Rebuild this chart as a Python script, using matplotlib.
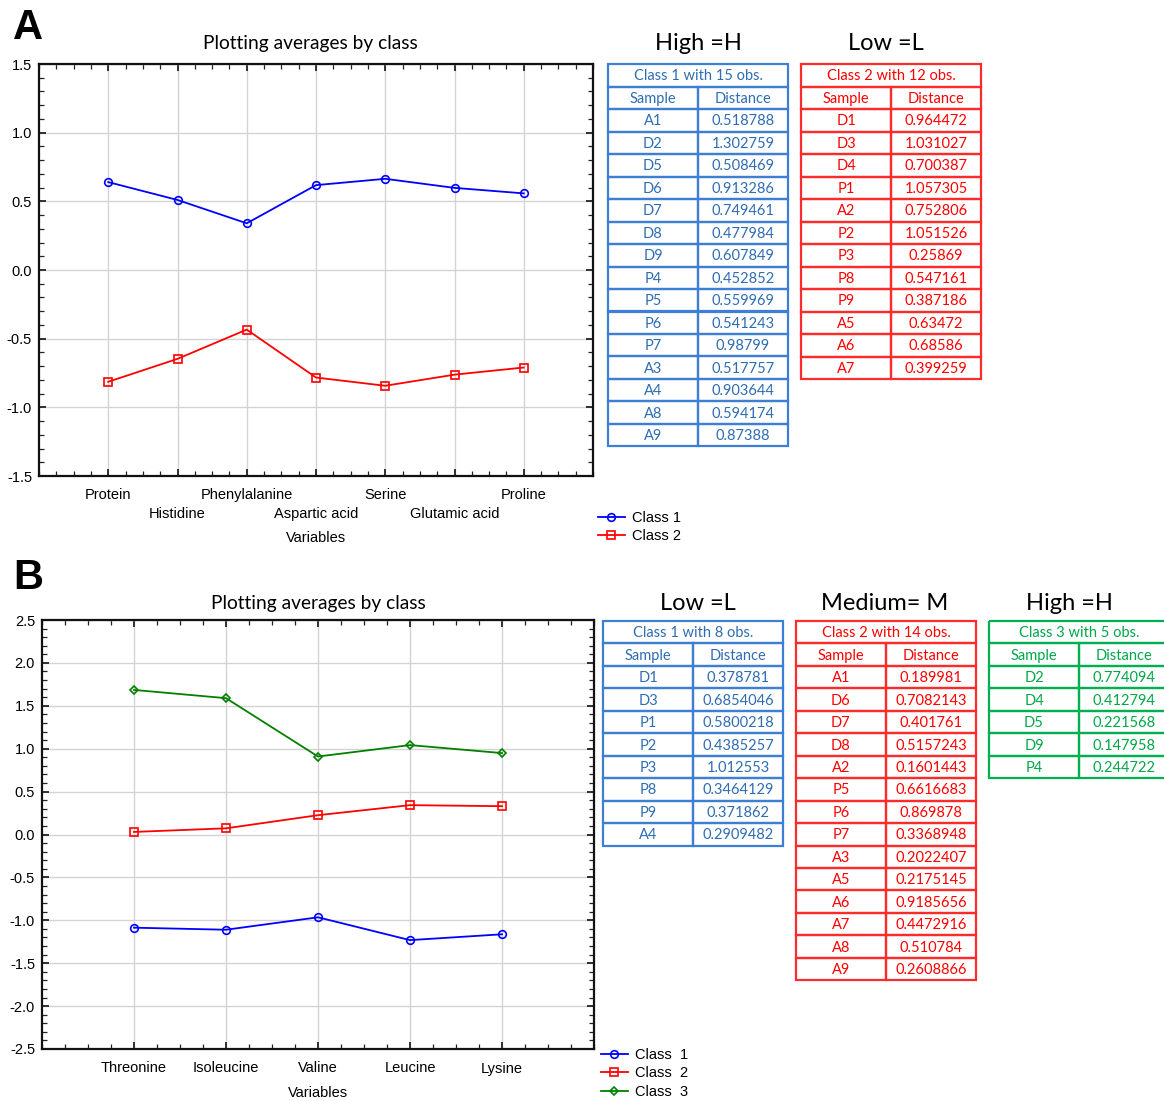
import matplotlib
matplotlib.use("Agg")
import matplotlib.pyplot as plt
from matplotlib.patches import Rectangle
from matplotlib.ticker import MultipleLocator, NullLocator

# ---------------- data ----------------
vars_a = ["Protein", "Histidine", "Phenylalanine", "Aspartic acid", "Serine", "Glutamic acid", "Proline"]
class1_a = [0.640, 0.510, 0.340, 0.618, 0.664, 0.598, 0.558]
class2_a = [-0.814, -0.647, -0.434, -0.783, -0.843, -0.762, -0.710]

vars_b = ["Threonine", "Isoleucine", "Valine", "Leucine", "Lysine"]
class1_b = [-1.086, -1.110, -0.965, -1.231, -1.163]
class2_b = [0.030, 0.072, 0.225, 0.342, 0.330]
class3_b = [1.685, 1.589, 0.909, 1.042, 0.949]

yticks_a = [-1.5, -1.0, -0.5, 0.0, 0.5, 1.0, 1.5]
yticks_b = [-2.5, -2.0, -1.5, -1.0, -0.5, 0.0, 0.5, 1.0, 1.5, 2.0, 2.5]

# tables of panel A
ta1_samples = ["A1", "D2", "D5", "D6", "D7", "D8", "D9", "P4", "P5", "P6", "P7", "A3", "A4", "A8", "A9"]
ta1_dist = [0.518788, 1.302759, 0.508469, 0.913286, 0.749461, 0.477984, 0.607849, 0.452852,
            0.559969, 0.541243, 0.98799, 0.517757, 0.903644, 0.594174, 0.87388]
ta2_samples = ["D1", "D3", "D4", "P1", "A2", "P2", "P3", "P8", "P9", "A5", "A6", "A7"]
ta2_dist = [0.964472, 1.031027, 0.700387, 1.057305, 0.752806, 1.051526, 0.25869, 0.547161,
            0.387186, 0.63472, 0.68586, 0.399259]

# tables of panel B
tb1_samples = ["D1", "D3", "P1", "P2", "P3", "P8", "P9", "A4"]
tb1_dist = [0.378781, 0.6854046, 0.5800218, 0.4385257, 1.012553, 0.3464129, 0.371862, 0.2909482]
tb2_samples = ["A1", "D6", "D7", "D8", "A2", "P5", "P6", "P7", "A3", "A5", "A6", "A7", "A8", "A9"]
tb2_dist = [0.189981, 0.7082143, 0.401761, 0.5157243, 0.1601443, 0.6616683, 0.869878, 0.3368948,
            0.2022407, 0.2175145, 0.9185656, 0.4472916, 0.510784, 0.2608866]
tb3_samples = ["D2", "D4", "D5", "D9", "P4"]
tb3_dist = [0.774094, 0.412794, 0.221568, 0.147958, 0.244722]

# ---------------- style ----------------
W, H = 1164, 1101
fig = plt.figure(figsize=(W / 100, H / 100), dpi=100)
fig.patch.set_facecolor("white")

ARIAL = "Liberation Sans"
CAL = "Lato"

BLUE_L, BLUE_T = "#3D7FD3", "#2E6DB4"
RED_L, RED_T = "#FF2A2A", "#FF0000"
GRN_L, GRN_T = "#00B050", "#00A848"


def px_axes(left, top, right, bottom):
    return fig.add_axes([left / W, 1 - bottom / H, (right - left) / W, (bottom - top) / H])


def style_chart(ax, n, yticks, ylim, labels, stagger):
    ax.set_xlim(-1, n)
    ax.set_ylim(*ylim)
    ax.set_xticks(range(n))
    if stagger:
        lab = [l if i % 2 == 0 else "" for i, l in enumerate(labels)]
    else:
        lab = labels
    ax.set_xticklabels(lab, fontfamily=ARIAL, fontsize=10.5)
    ax.set_yticks(yticks)
    ax.set_yticklabels([f"{v:.1f}" for v in yticks], fontfamily=ARIAL, fontsize=10.5)
    ax.xaxis.set_minor_locator(MultipleLocator(0.25))
    ax.yaxis.set_minor_locator(MultipleLocator(0.1))
    ax.tick_params(which="both", direction="in", top=True, right=True, color="#222222")
    ax.tick_params(which="major", length=5, width=1.3)
    ax.tick_params(axis="x", which="major", pad=9)
    ax.tick_params(axis="y", which="major", pad=5)
    ax.tick_params(which="minor", length=3.5, width=0.9)
    ax.grid(True, which="major", color="#D4D4D4", lw=1.0)
    ax.set_axisbelow(True)
    for s in ax.spines.values():
        s.set_linewidth(1.6)
        s.set_color("#111111")
    if stagger:
        idx = [i for i in range(n) if i % 2 == 1]
        sec = ax.secondary_xaxis("bottom")
        sec.set_xticks(idx)
        sec.set_xticklabels([labels[i] for i in idx], fontfamily=ARIAL, fontsize=10.5)
        sec.xaxis.set_minor_locator(NullLocator())
        sec.tick_params(length=0, pad=9 + 13.3)
        sec.spines["bottom"].set_visible(False)


def draw_table(left, top, nrows_data, samples, dists, title, lc, tc, row_h=22.5, width=180):
    nrows = nrows_data + 2
    ax = px_axes(left, top, left + width, top + nrows * row_h)
    ax.set_xlim(0, 2)
    ax.set_ylim(nrows, 0)
    ax.axis("off")
    kw = dict(fill=False, edgecolor=lc, lw=1.6, clip_on=False)
    tkw = dict(ha="center", va="center", color=tc, fontsize=10.5, fontfamily=CAL)
    ax.add_patch(Rectangle((0, 0), 2, 1, **kw))
    ax.text(1, 0.55, title, **tkw)
    for c, t in enumerate(["Sample", "Distance"]):
        ax.add_patch(Rectangle((c, 1), 1, 1, **kw))
        ax.text(c + 0.5, 1.55, t, **tkw)
    for r, (s, d) in enumerate(zip(samples, dists)):
        y = r + 2
        ax.add_patch(Rectangle((0, y), 1, 1, **kw))
        ax.add_patch(Rectangle((1, y), 1, 1, **kw))
        ax.text(0.5, y + 0.55, s, **tkw)
        ax.text(1.5, y + 0.55, str(d), **tkw)
    return ax


line_kw = dict(lw=1.3, markerfacecolor="none", markeredgewidth=1.2)
leg_kw = dict(frameon=False, prop={"family": ARIAL, "size": 10.5}, handlelength=1.85,
              handletextpad=0.5, labelspacing=0.3, borderpad=0, borderaxespad=0)

# ---------------- panel A ----------------
axA = px_axes(39, 64, 593, 476)
xa = list(range(len(vars_a)))
lA1, = axA.plot(xa, class1_a, color="#0000FF", marker="o", markersize=5.5, label="Class 1", **line_kw)
lA2, = axA.plot(xa, class2_a, color="#FF0000", marker="s", markersize=5.5, label="Class 2", **line_kw)
style_chart(axA, len(vars_a), yticks_a, (-1.5, 1.5), vars_a, True)
axA.text(0.49, 1 + 20 / 412, "Plotting averages by class", transform=axA.transAxes,
         ha="center", va="center", fontsize=13.8, fontfamily=CAL)
axA.set_xlabel("Variables", fontfamily=ARIAL, fontsize=10.5)
axA.xaxis.set_label_coords(0.5, -(538 - 476) / 412)
axA.xaxis.label.set_va("center")
fig.legend(handles=[lA1, lA2], loc="upper left", bbox_to_anchor=(598 / W, 1 - 511 / H), **leg_kw)

fig.text(28 / W, 1 - 28 / H, "A", ha="center", va="center", fontsize=30, fontweight="bold",
         fontfamily=ARIAL)

fig.text(698 / W, 1 - 43 / H, "High =H", ha="center", va="center", fontsize=17, fontfamily=CAL)
fig.text(886 / W, 1 - 43 / H, "Low =L", ha="center", va="center", fontsize=17, fontfamily=CAL)
draw_table(608, 64, len(ta1_samples), ta1_samples, ta1_dist, "Class 1 with 15 obs.", BLUE_L, BLUE_T)
draw_table(801, 64, len(ta2_samples), ta2_samples, ta2_dist, "Class 2 with 12 obs.", RED_L, RED_T)

# ---------------- panel B ----------------
axB = px_axes(42, 620, 594, 1049)
xb = list(range(len(vars_b)))
lB1, = axB.plot(xb, class1_b, color="#0000FF", marker="o", markersize=5.5, label="Class  1", **line_kw)
lB2, = axB.plot(xb, class2_b, color="#FF0000", marker="s", markersize=6, label="Class  2", **line_kw)
lB3, = axB.plot(xb, class3_b, color="#008000", marker="D", markersize=4.5, label="Class  3", **line_kw)
style_chart(axB, len(vars_b), yticks_b, (-2.5, 2.5), vars_b, False)
axB.text(0.5, 1 + 16 / 429, "Plotting averages by class", transform=axB.transAxes,
         ha="center", va="center", fontsize=13.8, fontfamily=CAL)
axB.set_xlabel("Variables", fontfamily=ARIAL, fontsize=10.5)
axB.xaxis.set_label_coords(0.5, -(1093 - 1049) / 429)
axB.xaxis.label.set_va("center")
fig.legend(handles=[lB1, lB2, lB3], loc="upper left", bbox_to_anchor=(601 / W, 1 - 1048 / H), **leg_kw)

fig.text(28 / W, 1 - 578 / H, "B", ha="center", va="center", fontsize=30, fontweight="bold",
         fontfamily=ARIAL)

fig.text(698 / W, 1 - 604 / H, "Low =L", ha="center", va="center", fontsize=17, fontfamily=CAL)
fig.text(885 / W, 1 - 604 / H, "Medium= M", ha="center", va="center", fontsize=17, fontfamily=CAL)
fig.text(1069 / W, 1 - 604 / H, "High =H", ha="center", va="center", fontsize=17, fontfamily=CAL)
draw_table(603, 621, len(tb1_samples), tb1_samples, tb1_dist, "Class 1 with 8 obs.", BLUE_L, BLUE_T, row_h=22.45)
draw_table(796, 621, len(tb2_samples), tb2_samples, tb2_dist, "Class 2 with 14 obs.", RED_L, RED_T, row_h=22.45)
draw_table(989, 621, len(tb3_samples), tb3_samples, tb3_dist, "Class 3 with 5 obs.", GRN_L, GRN_T, row_h=22.45)

fig.savefig("out.png", dpi=100, facecolor="white")
